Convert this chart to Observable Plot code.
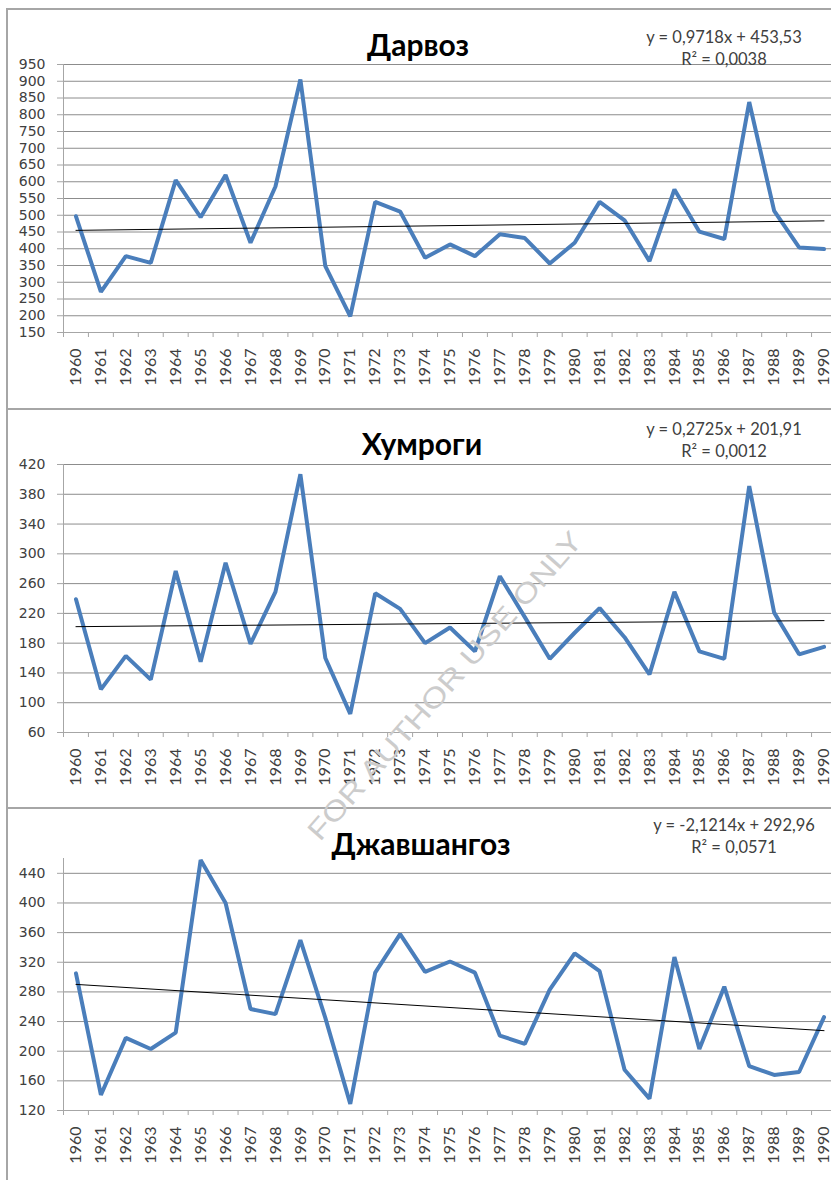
<!DOCTYPE html>
<html><head><meta charset="utf-8">
<script src="https://cdn.jsdelivr.net/npm/d3@7"></script>
<script src="https://cdn.jsdelivr.net/npm/@observablehq/plot@0.6"></script>
<style>
html,body{margin:0;padding:0;width:831px;height:1180px;overflow:hidden;background:#fff;}
.panel{position:absolute;left:0;width:840px;}
.panel svg{max-width:none !important;}
.frame{position:absolute;left:6px;width:900px;border-left:2px solid #a6a6a6;border-top:2px solid #a6a6a6;box-sizing:border-box;}
#overlay{position:absolute;left:0;top:0;pointer-events:none;}
</style></head><body>
<div id="root"></div>
<script>
// ---- data ----
const years = [1960,1961,1962,1963,1964,1965,1966,1967,1968,1969,1970,1971,1972,1973,1974,1975,1976,1977,1978,1979,1980,1981,1982,1983,1984,1985,1986,1987,1988,1989,1990];
const darvoz = [497,271,378,358,605,494,620,418,586,905,348,198,540,511,373,413,378,443,432,356,418,540,485,363,577,451,429,838,513,404,399];
const khumrogi = [239,118,163,131,277,155,288,179,249,407,160,85,247,226,180,201,169,270,215,159,194,227,188,138,249,169,159,391,221,165,175];
const dzhavshangoz = [305,141,218,203,225,458,400,257,250,350,245,129,306,358,307,321,306,221,210,283,332,308,175,136,327,203,287,180,168,172,246];
const titles = ["Дарвоз", "Хумроги", "Джавшангоз"];
const equations = ["y = 0,9718x + 453,53", "y = 0,2725x + 201,91", "y = -2,1214x + 292,96"];
const rsquared = ["R² = 0,0038", "R² = 0,0012", "R² = 0,0571"];
const ticksDarvoz = [150,200,250,300,350,400,450,500,550,600,650,700,750,800,850,900,950];
const ticksKhumrogi = [60,100,140,180,220,260,300,340,380,420];
const ticksDzhavshangoz = [120,160,200,240,280,320,360,400,440];
const domainDarvoz = [150, 950];
const domainKhumrogi = [60, 420];
const domainDzhavshangoz = [120, 460];
const watermark = "FOR AUTHOR USE ONLY";

// ---- layout ----
const panels = [
  {values: darvoz, ticks: ticksDarvoz, domain: domainDarvoz, top: 8, h: 400, mt: 56, mb: 76,
   tx: 418, ty: 56, ex: 724, ey1: 43, ey2: 65},
  {values: khumrogi, ticks: ticksKhumrogi, domain: domainKhumrogi, top: 408, h: 399, mt: 56, mb: 75,
   tx: 422, ty: 455, ex: 724, ey1: 435, ey2: 457},
  {values: dzhavshangoz, ticks: ticksDzhavshangoz, domain: domainDzhavshangoz, top: 807, h: 373, mt: 51, mb: 70,
   tx: 421, ty: 855, ex: 734, ey1: 831, ey2: 853}
];

const root = document.getElementById("root");
const FONT = "Lato, 'Open Sans', 'DejaVu Sans', sans-serif";
const TICKFONT = "'DejaVu Sans', sans-serif";

panels.forEach((P, k) => {
  const frame = document.createElement("div");
  frame.className = "frame";
  frame.style.top = P.top + "px";
  frame.style.height = (k === 2 ? 400 : P.h) + "px";
  root.appendChild(frame);

  const data = years.map((year, i) => ({year, value: P.values[i]}));
  const bounds = [...years.map(y => y - 0.5), years[years.length - 1] + 0.5];
  const chart = Plot.plot({
    width: 840, height: P.h,
    marginLeft: 63, marginRight: 4, marginTop: P.mt, marginBottom: P.mb,
    style: {fontFamily: FONT, background: "transparent", overflow: "visible", maxWidth: "none"},
    x: {domain: [bounds[0], bounds[bounds.length - 1]]},
    y: {domain: P.domain},
    marks: [
      Plot.gridY(P.ticks, {stroke: "#8c8c8c", strokeOpacity: 1}),
      Plot.ruleX([bounds[0]], {stroke: "#a6a6a6"}),
      Plot.ruleY([P.domain[0]], {stroke: "#a6a6a6"}),
      Plot.axisY(P.ticks, {tickSize: 6, tickPadding: 12, fontSize: 14, fontFamily: TICKFONT, stroke: "#a6a6a6", fill: "#404040", label: null}),
      Plot.axisX(bounds, {tickSize: 5, tickFormat: () => "", stroke: "#a6a6a6", label: null}),
      Plot.axisX(years, {tickSize: 0, tickPadding: 16, tickRotate: -90, fontSize: 16, fill: "#404040", tickFormat: d => String(d), label: null}),
      Plot.line(data, {x: "year", y: "value", stroke: "#4A7EBB", strokeWidth: 4, strokeLinejoin: "miter"}),
      Plot.linearRegressionY(data, {x: "year", y: "value", stroke: "#000", strokeWidth: 1, ci: 0})
    ]
  });
  const wrap = document.createElement("div");
  wrap.className = "panel";
  wrap.style.top = P.top + "px";
  wrap.appendChild(chart);
  root.appendChild(wrap);
});

// ---- overlay texts ----
const NS = "http://www.w3.org/2000/svg";
const svg = document.createElementNS(NS, "svg");
svg.setAttribute("id", "overlay");
svg.setAttribute("width", 831);
svg.setAttribute("height", 1180);
function addText(str, x, y, attrs) {
  const t = document.createElementNS(NS, "text");
  t.setAttribute("x", x); t.setAttribute("y", y);
  for (const [a, v] of Object.entries(attrs)) t.setAttribute(a, v);
  t.textContent = str;
  svg.appendChild(t);
  return t;
}
panels.forEach((P, k) => {
  addText(titles[k], P.tx, P.ty, {"text-anchor": "middle", "font-family": FONT, "font-weight": "bold", "font-size": 30, fill: "#000"});
  addText(equations[k], P.ex, P.ey1, {"text-anchor": "middle", "font-family": FONT, "font-size": 16.5, fill: "#404040"});
  addText(rsquared[k], P.ex, P.ey2, {"text-anchor": "middle", "font-family": FONT, "font-size": 16.5, fill: "#404040"});
});
addText(watermark, 0, 0, {"text-anchor": "middle", "font-family": "'Liberation Sans', sans-serif", "font-size": 28, "font-weight": 300,
  fill: "#cccccc", textLength: 400, lengthAdjust: "spacingAndGlyphs", transform: "translate(452,692) rotate(-48.7)"});
document.body.appendChild(svg);
</script>
</body></html>
